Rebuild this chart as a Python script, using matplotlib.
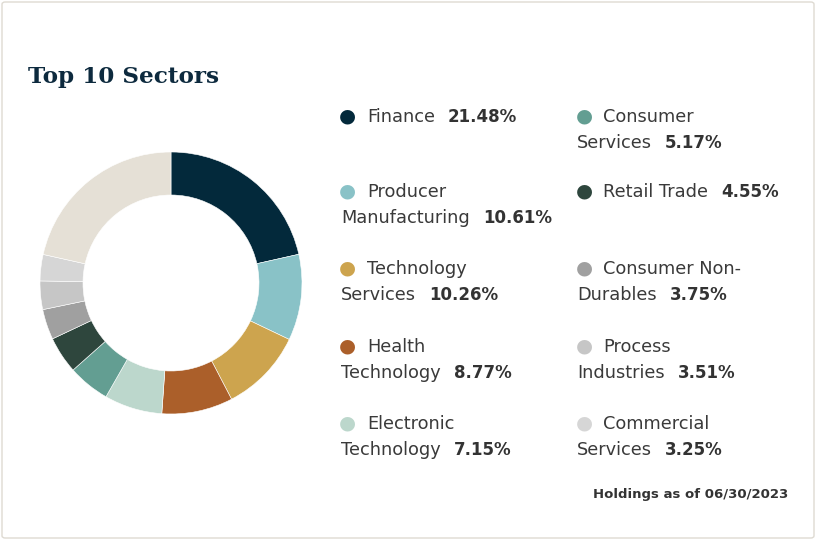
import matplotlib
matplotlib.use("Agg")
import matplotlib.pyplot as plt
from matplotlib.patches import FancyBboxPatch

W, H = 817, 541

sectors = ["Finance", "Producer Manufacturing", "Technology Services", "Health Technology",
           "Electronic Technology", "Consumer Services", "Retail Trade",
           "Consumer Non-Durables", "Process Industries", "Commercial Services"]
values = [21.48, 10.61, 10.26, 8.77, 7.15, 5.17, 4.55, 3.75, 3.51, 3.25]
colors = ["#03293b", "#89c2c7", "#cda44e", "#ab5f2a", "#bcd7cc", "#639e92", "#2e463d",
          "#a0a0a0", "#c6c6c6", "#d6d6d6"]
other_value = 100 - sum(values)
other_color = "#e5e0d6"

# legend lines: (first line, second line) as wrapped in the reference
legend_lines = [("Finance", ""), ("Producer", "Manufacturing"), ("Technology", "Services"),
                ("Health", "Technology"), ("Electronic", "Technology"),
                ("Consumer", "Services"), ("Retail Trade", ""), ("Consumer Non-", "Durables"),
                ("Process", "Industries"), ("Commercial", "Services")]

fig = plt.figure(figsize=(W / 100, H / 100), dpi=100)
fig.patch.set_facecolor("white")

def fx(x): return x / W
def fy(y): return 1 - y / H

border = FancyBboxPatch((fx(2), fy(538)), fx(812), (536) / H,
                        boxstyle="round,pad=0,rounding_size=0.004",
                        transform=fig.transFigure, facecolor="none",
                        edgecolor="#dedad2", linewidth=1, zorder=-5)
fig.patches.append(border)

# donut
cx, cy, r_out, r_in = 171, 283, 131, 88
ax = fig.add_axes([fx(cx - r_out), fy(cy + r_out), 2 * r_out / W, 2 * r_out / H])
ax.pie(values + [other_value], colors=colors + [other_color], startangle=90,
       counterclock=False, radius=1,
       wedgeprops=dict(width=(r_out - r_in) / r_out, edgecolor="white", linewidth=0.4))
ax.set_xlim(-1, 1); ax.set_ylim(-1, 1)
ax.set_aspect("equal")
ax.axis("off")

fig.text(fx(28), fy(83), "Top 10 Sectors", family="DejaVu Serif", weight="bold",
         fontsize=16.7, color="#0d2a3e", va="baseline")

text_color = "#3a3a3a"
fs = 12.8
fs_b = 12.0
font = "DejaVu Sans"
cols_x = [(347, 367, 341), (584, 603, 577)]
rows_y = [116, 191, 268, 346, 423]
line_gap = 26
base_off = 6

fig.canvas.draw()
renderer = fig.canvas.get_renderer()

for i, (name, val) in enumerate(zip(sectors, values)):
    col, row = divmod(i, 5)
    mx, tx, tx2 = cols_x[col]
    y = rows_y[row]
    fig.text(fx(mx), fy(y), "\u25CF", fontsize=14, color=colors[i], ha="center",
             va="center", family="DejaVu Sans")
    l1, l2 = legend_lines[i]
    t = fig.text(fx(tx), fy(y + base_off), l1, fontsize=fs, color=text_color,
                 va="baseline", family=font)
    ly = y
    if l2:
        ly = y + line_gap
        t = fig.text(fx(tx2), fy(ly + base_off), l2, fontsize=fs, color=text_color,
                     va="baseline", family=font)
    bb = t.get_window_extent(renderer)
    fig.text(bb.x1 / W + fx(13), fy(ly + base_off), f"{val:.2f}%", fontsize=fs_b,
             weight="bold", color="#333333", va="baseline", family=font)

fig.text(fx(788), fy(498), "Holdings as of 06/30/2023", fontsize=9.5, weight="bold",
         color="#333333", ha="right", va="baseline", family=font)

fig.savefig("out.png", dpi=100, facecolor="white")
